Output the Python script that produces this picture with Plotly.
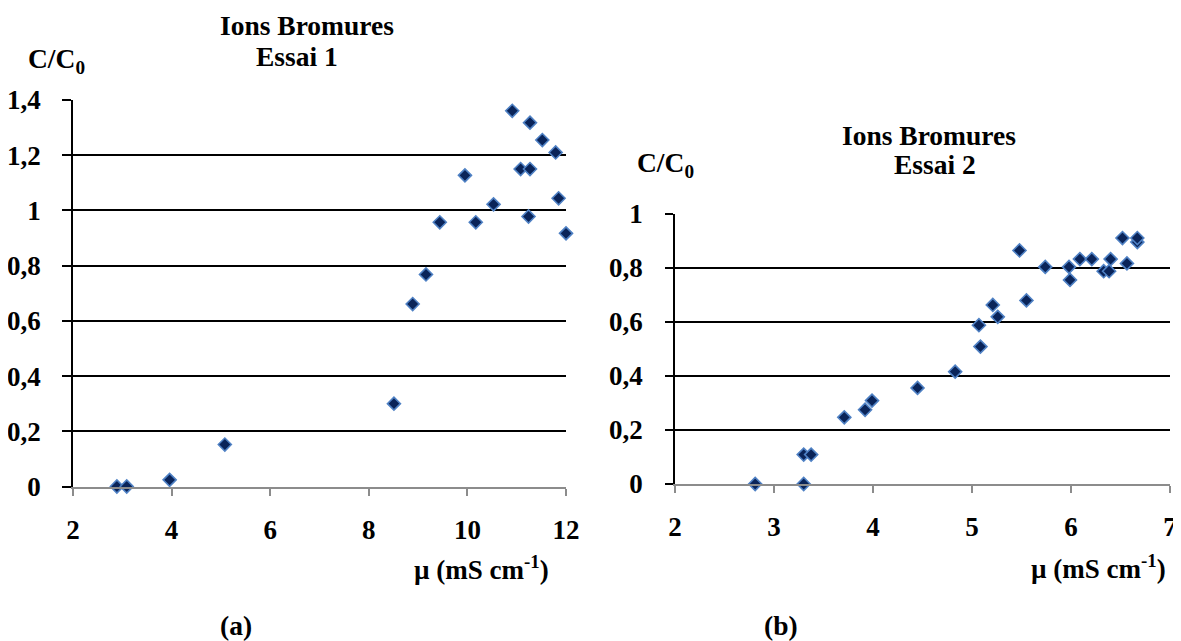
import plotly.graph_objects as go

# ---- Data ----
x_essai1 = [2.89, 3.09, 3.96, 5.08, 8.51, 8.89, 9.16, 9.44, 9.95, 10.17,
            10.53, 10.91, 11.08, 11.27, 11.27, 11.24, 11.52, 11.79, 11.85, 12.0]
y_essai1 = [0.0, 0.0, 0.024, 0.152, 0.30, 0.661, 0.768, 0.957, 1.127, 0.957,
            1.022, 1.361, 1.150, 1.150, 1.318, 0.978, 1.255, 1.210, 1.044, 0.917]

x_essai2 = [2.81, 3.30, 3.30, 3.375, 3.71, 3.92, 3.99, 4.45, 4.83, 5.07,
            5.085, 5.21, 5.26, 5.48, 5.55, 5.74, 5.98, 5.99, 6.09, 6.21,
            6.33, 6.385, 6.40, 6.52, 6.565, 6.67, 6.67]
y_essai2 = [0.0, 0.0, 0.109, 0.109, 0.247, 0.275, 0.309, 0.356, 0.416, 0.588,
            0.509, 0.663, 0.619, 0.865, 0.680, 0.804, 0.804, 0.756, 0.833, 0.833,
            0.788, 0.788, 0.833, 0.911, 0.817, 0.896, 0.911]

xticks1 = [2, 4, 6, 8, 10, 12]
xticks2 = [2, 3, 4, 5, 6, 7]
yticks1 = [0, 0.2, 0.4, 0.6, 0.8, 1.0, 1.2, 1.4]
ytext1 = ["0", "0,2", "0,4", "0,6", "0,8", "1", "1,2", "1,4"]
yticks2 = [0, 0.2, 0.4, 0.6, 0.8, 1.0]
ytext2 = ["0", "0,2", "0,4", "0,6", "0,8", "1"]

title_line1 = "Ions Bromures"
title1_line2 = "Essai 1"
title2_line2 = "Essai 2"
ylabel = "C/C<sub>0</sub>"
xlabel1 = "µ (mS cm<sup>-1</sup>)"
xlabel2 = "µ (mS cm<sup>-1</sup>)"

# ---- Layout helpers ----
# The page body has an 8px margin, so the figure is drawn 8px in from the
# window's top-left corner; size it so it ends at the window edge.
OFF = 8
VW, VH = 1181, 641
W, H = VW - OFF, VH - OFF
FONT = "Liberation Serif"


def px(x):
    return (x - OFF) / W


def py(y):
    return 1 - (y - OFF) / H


marker = dict(symbol="diamond", size=10, color="#0A2459",
              line=dict(color="#4F81C4", width=1.6))

fig = go.Figure()
fig.add_trace(go.Scatter(x=x_essai1, y=y_essai1, mode="markers", marker=marker,
                         xaxis="x", yaxis="y", cliponaxis=False, showlegend=False))
fig.add_trace(go.Scatter(x=x_essai2, y=y_essai2, mode="markers", marker=marker,
                         xaxis="x2", yaxis="y2", cliponaxis=False, showlegend=False))

tickfont = dict(family=FONT, size=27, color="black", weight="bold")

xcommon = dict(showline=True, linecolor="#8C8C8C", linewidth=2, ticks="outside",
               ticklen=7, tickwidth=1.5, tickcolor="#8C8C8C", showgrid=False,
               zeroline=False, tickfont=tickfont, ticklabelstandoff=11,
               fixedrange=True, automargin=False)
ycommon = dict(showline=True, linecolor="black", linewidth=1.5, ticks="outside",
               tickwidth=1.5, tickcolor="black", showgrid=True,
               gridcolor="black", gridwidth=2, zeroline=False, tickfont=tickfont,
               fixedrange=True, automargin=False)

fig.update_layout(
    width=W, height=H, margin=dict(l=0, r=0, t=0, b=0, pad=0, autoexpand=False),
    paper_bgcolor="white", plot_bgcolor="white", showlegend=False,
    xaxis=dict(domain=[px(73), px(566)], range=[2, 12], tickvals=xticks1,
               anchor="y", **xcommon),
    yaxis=dict(domain=[py(486.5), py(100)], range=[0, 1.4], tickvals=yticks1,
               ticktext=ytext1, anchor="x", ticklen=9, ticklabelstandoff=16,
               **ycommon),
    xaxis2=dict(domain=[px(675), px(1170)], range=[2, 7], tickvals=xticks2,
                anchor="y2", **xcommon),
    yaxis2=dict(domain=[py(484), py(214)], range=[0, 1], tickvals=yticks2,
                ticktext=ytext2, anchor="x2", ticklen=8, ticklabelstandoff=17,
                **ycommon),
)

afont = dict(family=FONT, size=27.5, color="black", weight="bold")
lfont = dict(family=FONT, size=27, color="black", weight="bold")


def ann(text, x, y, font, xanchor="center"):
    fig.add_annotation(text=text, x=px(x), y=py(y), xref="paper", yref="paper",
                       showarrow=False, font=font, xanchor=xanchor, yanchor="middle")


ann(title_line1, 307, 25, afont)
ann(title1_line2, 297, 56, afont)
ann(ylabel, 56, 60, afont)
ann(title_line1, 929, 136, afont)
ann(title2_line2, 935, 165, afont)
ann(ylabel, 665, 164, afont)
ann(xlabel1, 481, 568, lfont)
ann(xlabel2, 1098, 567, lfont)
ann("(a)", 236, 625, afont)
ann("(b)", 781, 625, afont)

fig.write_html("out.html")
